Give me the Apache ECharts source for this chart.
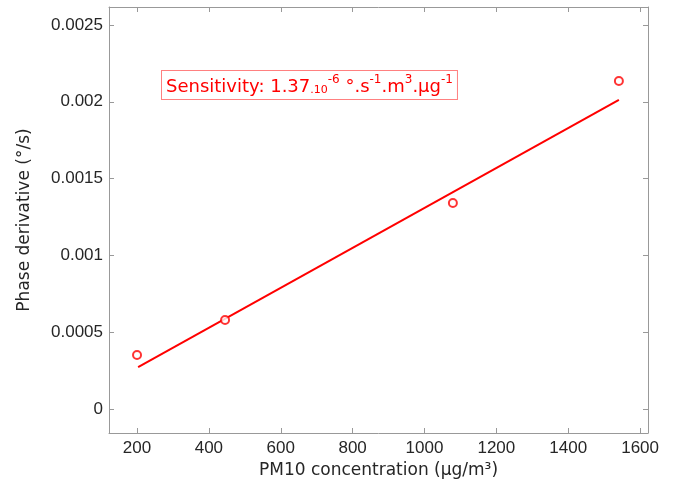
<!DOCTYPE html>
<html lang="en">
<head>
    <meta charset="UTF-8">
    <title>PM10 sensitivity</title>
    <script type="text/javascript" src="https://cdn.jsdelivr.net/npm/echarts@6/dist/echarts.min.js"></script>
    <style>
        html, body { margin: 0; padding: 0; background: #fff; }
        #chart { width: 678px; height: 491px; }
    </style>
</head>
<body>
<div id="chart"></div>
<script type="text/javascript">
    // measured points
    var pm10 = [200, 445, 1079, 1541];
    var phaseDeriv = [0.000352, 0.000579, 0.001341, 0.002135];
    // linear fit end points
    var fitX = [203, 1541];
    var fitY = [0.000273, 0.002012];
    // ticks
    var xTicks = [200, 400, 600, 800, 1000, 1200, 1400, 1600];
    var yTicks = [0, 0.0005, 0.001, 0.0015, 0.002, 0.0025];

    var frameColor = '#999';
    var red = '#ff0000';

    function axisBase(ticks, showLabel) {
        return {
            type: 'value',
            axisLine: { show: true, onZero: false, lineStyle: { color: frameColor, width: 1 } },
            axisTick: { show: true, inside: true, length: 5, customValues: ticks,
                lineStyle: { color: frameColor } },
            axisLabel: { show: showLabel, customValues: ticks, color: '#262626',
                fontFamily: 'Liberation Sans', fontSize: 17,
                formatter: function (v) { return String(v); } },
            splitLine: { show: false }
        };
    }

    var xBottom = axisBase(xTicks, true);
    xBottom.min = 122; xBottom.max = 1622; xBottom.position = 'bottom';
    xBottom.axisLabel.margin = 7;
    xBottom.name = 'PM10 concentration (μg/m³)';
    xBottom.nameLocation = 'middle';
    xBottom.nameGap = 28;
    xBottom.nameTextStyle = { color: '#262626', fontFamily: 'DejaVu Sans', fontSize: 17 };

    var xTop = axisBase(xTicks, false);
    xTop.min = 122; xTop.max = 1622; xTop.position = 'top';

    var yLeft = axisBase(yTicks, true);
    yLeft.min = -0.000156; yLeft.max = 0.002617; yLeft.position = 'left';
    yLeft.axisLabel.margin = 6;
    yLeft.name = 'Phase derivative (°/s)';
    yLeft.nameLocation = 'middle';
    yLeft.nameGap = 76;
    yLeft.nameTextStyle = { color: '#262626', fontFamily: 'DejaVu Sans', fontSize: 17 };

    var yRight = axisBase(yTicks, false);
    yRight.min = -0.000156; yRight.max = 0.002617; yRight.position = 'right';

    var option = {
        animation: false,
        backgroundColor: '#fff',
        grid: { left: 109, right: 30, top: 7, bottom: 58, containLabel: false },
        xAxis: [xBottom, xTop],
        yAxis: [yLeft, yRight],
        graphic: [{
            type: 'text',
            left: 161,
            top: 70,
            z: 100,
            style: {
                text: '{m|Sensitivity: 1.37}{s|.10}{u|-6}{m| °.s}{u|-1}{m|.m}{u|3}{m|.μg}{u|-1}',
                fill: red,
                backgroundColor: '#fff',
                borderColor: '#ff8080',
                borderWidth: 1,
                padding: [3, 4, 3, 4],
                rich: {
                    m: { fontFamily: 'DejaVu Sans', fontSize: 18, fill: red, lineHeight: 22, verticalAlign: 'bottom' },
                    s: { fontFamily: 'DejaVu Sans', fontSize: 11, fill: red, lineHeight: 15, verticalAlign: 'bottom' },
                    u: { fontFamily: 'DejaVu Sans', fontSize: 12, fill: red, lineHeight: 12, verticalAlign: 'top' }
                }
            }
        }],
        series: [
            {
                type: 'line',
                data: fitX.map(function (x, i) { return [x, fitY[i]]; }),
                showSymbol: false,
                lineStyle: { color: red, width: 2 },
                z: 2
            },
            {
                type: 'scatter',
                data: pm10.map(function (x, i) { return [x, phaseDeriv[i]]; }),
                symbol: 'circle',
                symbolSize: 8,
                itemStyle: { color: '#fff', borderColor: red, borderWidth: 2 },
                z: 3
            }
        ]
    };

    var myChart = echarts.init(document.getElementById('chart'));
    myChart.setOption(option);
</script>
</body>
</html>
